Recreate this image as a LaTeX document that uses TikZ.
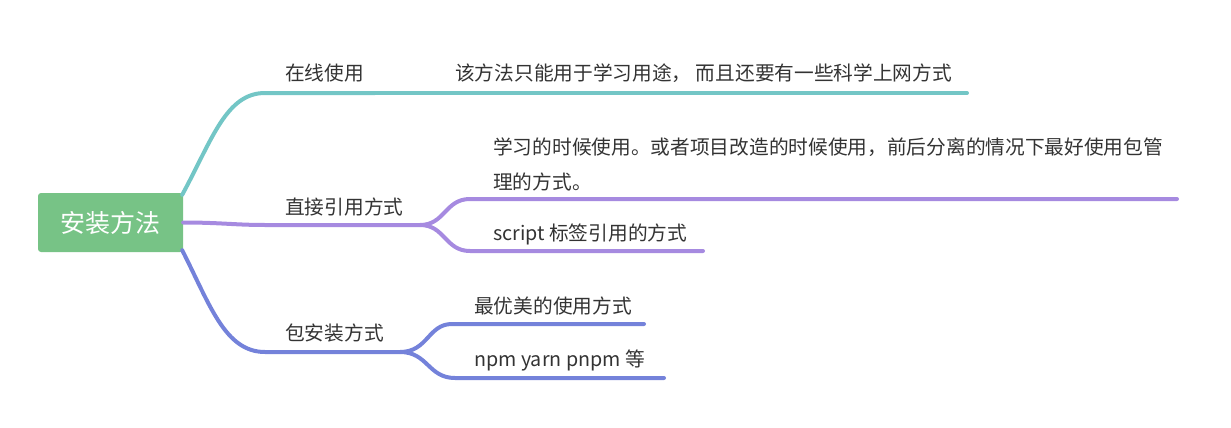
\documentclass[tikz,border=0pt]{standalone}
\usepackage{fontspec}
\setmainfont{Noto Sans CJK SC}
\definecolor{teal1}{HTML}{73C6C6}
\definecolor{purp1}{HTML}{A68AE0}
\definecolor{blue1}{HTML}{7482DA}
\definecolor{root1}{HTML}{77C386}
\definecolor{txt1}{HTML}{333333}
\begin{document}
\begin{tikzpicture}[x=1pt,y=-1pt,
  lbl/.style={anchor=base west,inner sep=0pt,text=txt1,font=\fontsize{19.7}{35}\selectfont,align=left},
  conn/.style={line width=4pt,line cap=round,line join=round}]
\useasboundingbox (0,0) rectangle (1231,428);
\node[fill=root1,rounded corners=3pt,minimum width=145pt,minimum height=59pt,inner sep=0pt,text=white,font=\fontsize{25}{25}\selectfont] (root) at (110.5,222.5) {安装方法};
% branch labels
\node[lbl] (b1) at (285,80.5) {在线使用};
\node[lbl] (b2) at (285,214) {直接引用方式};
\node[lbl] (b3) at (285,340) {包安装方式};
% child labels
\node[lbl] (c1) at (455,80.5) {该方法只能用于学习用途，\ 而且还要有一些科学上网方式};
\node[lbl] (c2a) at (493,189.5) {学习的时候使用。或者项目改造的时候使用，前后分离的情况下最好使用包管\\理的方式。};
\node[lbl] (c2b) at (493,240.5) {script 标签引用的方式};
\node[lbl] (c3a) at (474,313.5) {最优美的使用方式};
\node[lbl] (c3b) at (474,366.5) {npm yarn pnpm 等};
% junction coordinates
\coordinate (j1) at (375,93);
\coordinate (j2) at (420,225);
\coordinate (j3) at (400,352);
\coordinate (e1) at (967,93);
\coordinate (e2a) at (1177,199);
\coordinate (e2b) at (703,251);
\coordinate (e3a) at (644,324);
\coordinate (e3b) at (664,378);
% teal
\draw[conn,teal1] ([xshift=-1pt,yshift=-2pt]root.north east) .. controls (212,140) and (226,93) .. (265,93) -- (j1);
\draw[conn,teal1] (j1) -- (e1);
% purple
\draw[conn,purp1] (root.east) .. controls (220,222.5) and (235,225) .. (265,225) -- (j2);
\draw[conn,purp1] (j2) .. controls (445,225) and (445,199) .. (470,199) -- (e2a);
\draw[conn,purp1] (j2) .. controls (445,225) and (445,251) .. (470,251) -- (e2b);
% blue
\draw[conn,blue1] ([xshift=-1pt,yshift=2pt]root.south east) .. controls (210,305) and (225,352) .. (265,352) -- (j3);
\draw[conn,blue1] (j3) .. controls (428,352) and (428,324) .. (452,324) -- (e3a);
\draw[conn,blue1] (j3) .. controls (428,352) and (428,378) .. (455,378) -- (e3b);
\end{tikzpicture}
\end{document}
